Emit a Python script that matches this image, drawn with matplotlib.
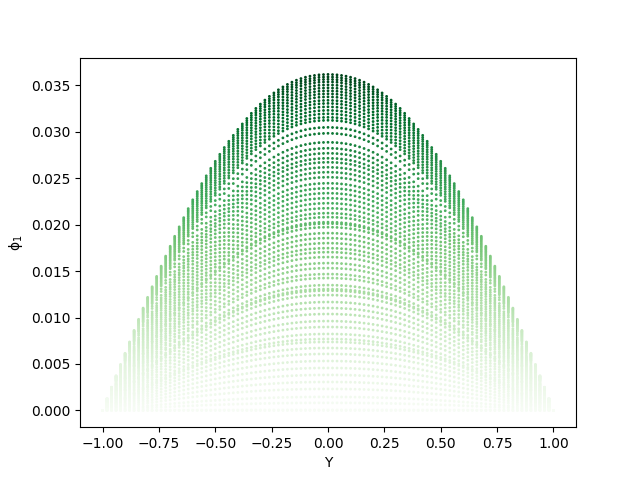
import numpy as np
import matplotlib
matplotlib.use("Agg")
import matplotlib.pyplot as plt

# Y columns for the right half of the plot (the left half mirrors it)
y_half = [0.00, 0.02, 0.04, 0.06, 0.08, 0.10, 0.12, 0.14, 0.16, 0.18,
          0.20, 0.22, 0.24, 0.26, 0.28, 0.30, 0.32, 0.34, 0.36, 0.38,
          0.40, 0.42, 0.44, 0.46, 0.48, 0.50, 0.52, 0.54, 0.56, 0.58,
          0.60, 0.62, 0.64, 0.66, 0.68, 0.70, 0.72, 0.74, 0.76, 0.78,
          0.80, 0.82, 0.84, 0.86, 0.88, 0.90, 0.92, 0.94, 0.96, 0.98, 1.00]

# Column height relative to the peak
profile_half = [1.0000, 0.9995, 0.9987, 0.9969, 0.9947, 0.9916, 0.9876, 0.9827, 0.9769, 0.9702,
                0.9627, 0.9542, 0.9448, 0.9346, 0.9235, 0.9116, 0.8988, 0.8842, 0.8687, 0.8525,
                0.8364, 0.8186, 0.8009, 0.7824, 0.7622, 0.7413, 0.7205, 0.6981, 0.6750, 0.6512,
                0.6267, 0.6005, 0.5736, 0.5462, 0.5181, 0.4884, 0.4591, 0.4292, 0.3988, 0.3679,
                0.3364, 0.3044, 0.2710, 0.2380, 0.2037, 0.1698, 0.1366, 0.1030, 0.0690, 0.0347, 0.0000]

# Values of phi_1 where each row of points crosses Y = 0
row_peaks = [0.03618, 0.03591, 0.03565, 0.03538, 0.03505, 0.03473, 0.03441, 0.03409,
             0.03376, 0.03339, 0.03306, 0.03269, 0.03231, 0.03194, 0.03156, 0.03124,
             0.03048, 0.02984, 0.02887, 0.02823, 0.02769, 0.02715, 0.02672, 0.02618,
             0.02565, 0.02511, 0.02446, 0.02392, 0.02339, 0.02285, 0.02231, 0.02177,
             0.02124, 0.02081, 0.02027, 0.02012, 0.01973, 0.01909, 0.01855,
             0.01801, 0.01747, 0.01704, 0.01651, 0.01586, 0.01532, 0.01468, 0.01425,
             0.01349, 0.01306, 0.01290, 0.01242, 0.01167, 0.01102,
             0.01038, 0.00962, 0.00898, 0.00823, 0.00769, 0.00737, 0.00672, 0.00608,
             0.00532, 0.00457, 0.00382, 0.00306, 0.00231, 0.00145, 0.00081, 0.00005, 0.00000]

y_half_arr = np.array(y_half)
profile_half_arr = np.array(profile_half)
y_cols = np.concatenate([-y_half_arr[:0:-1], y_half_arr])
profile = np.concatenate([profile_half_arr[:0:-1], profile_half_arr])

rows = np.sort(np.array(row_peaks))
phi = np.outer(rows, profile)
Y = np.tile(y_cols, (len(rows), 1))

fig, ax = plt.subplots(figsize=(6.4, 4.8), dpi=100)
ax.scatter(Y.ravel(), phi.ravel(), c=phi.ravel(), cmap="Greens", s=1)
ax.set_xlabel("Y")
ax.set_ylabel(r"$\mathrm{\phi_1}$")
fig.savefig("out.png", dpi=100)
